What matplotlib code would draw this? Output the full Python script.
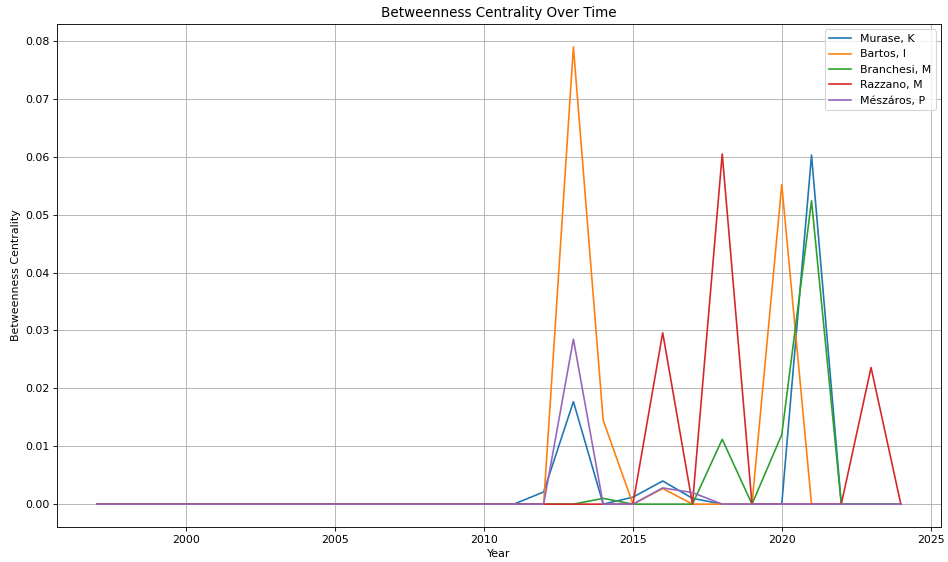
import matplotlib
matplotlib.use("Agg")
import matplotlib.pyplot as plt

years = list(range(1997, 2025))

# values 1997..2010 are zero for everyone
pre = [0.0] * 14

murase = pre + [0.0, 0.0021, 0.0177, 0.0, 0.0012, 0.0040, 0.0010, 0.0, 0.0, 0.0, 0.0603, 0.0, 0.0, 0.0]
bartos = pre + [0.0, 0.0, 0.0790, 0.0145, 0.0, 0.0027, 0.0, 0.0, 0.0, 0.0552, 0.0, 0.0, 0.0, 0.0]
branchesi = pre + [0.0, 0.0, 0.0, 0.0010, 0.0, 0.0, 0.0, 0.0112, 0.0, 0.0120, 0.0524, 0.0, 0.0, 0.0]
razzano = pre + [0.0, 0.0, 0.0, 0.0, 0.0, 0.0296, 0.0, 0.0605, 0.0, 0.0, 0.0, 0.0, 0.0236, 0.0]
meszaros = pre + [0.0, 0.0, 0.0285, 0.0, 0.0, 0.0028, 0.0020, 0.0, 0.0, 0.0, 0.0, 0.0, 0.0, 0.0]

series = {
    "Murase, K": murase,
    "Bartos, I": bartos,
    "Branchesi, M": branchesi,
    "Razzano, M": razzano,
    "Mészáros, P": meszaros,
}

fig, ax = plt.subplots(figsize=(12, 562 / 79), dpi=79)
for name, vals in series.items():
    ax.plot(years, vals, label=name)

ax.set_title("Betweenness Centrality Over Time", fontsize=12.3)
ax.set_xlabel("Year")
ax.set_ylabel("Betweenness Centrality")
ax.legend(loc="upper right")
ax.grid(True)

# axes box placed to match the reference
fig.subplots_adjust(left=57 / 948, right=941 / 948, top=1 - 24 / 562, bottom=1 - 527 / 562)
plt.savefig("out.png", dpi=79)
